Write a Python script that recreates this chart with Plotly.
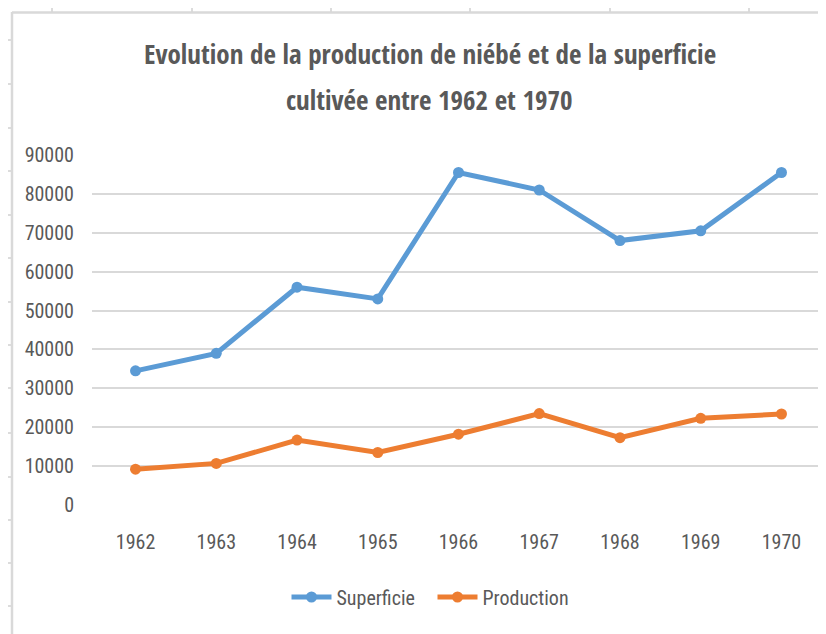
import plotly.graph_objects as go

years = ["1962", "1963", "1964", "1965", "1966", "1967", "1968", "1969", "1970"]
superficie = [34500, 39000, 56000, 53000, 85500, 81000, 68000, 70500, 85500]
production = [9200, 10700, 16700, 13500, 18200, 23500, 17300, 22300, 23400]
y_ticks = [0, 10000, 20000, 30000, 40000, 50000, 60000, 70000, 80000, 90000]
title_lines = ["Evolution de la production de niébé et de la superficie",
               "cultivée entre 1962 et 1970"]

W, H = 826, 634
OFF = 8  # page body margin
L, R, T, B = 84, 9, 147, 137
LABEL_FONT = "Roboto Condensed, DejaVu Sans Condensed, sans-serif"
TITLE_FONT = "Open Sans Condensed, Roboto Condensed, sans-serif"
TXT = "#595959"
GRID = "#D9D9D9"
SHEET = "#D0D0D0"


def px(x_ref):
    return (x_ref - OFF - L) / (W - L - R)


def py(y_ref):
    return 1 - (y_ref - OFF - T) / (H - T - B)


fig = go.Figure()
fig.add_trace(go.Scatter(
    x=years, y=superficie, name="Superficie", mode="lines+markers",
    line=dict(color="#5B9BD5", width=5),
    marker=dict(color="#5B9BD5", size=11, symbol="circle"),
))
fig.add_trace(go.Scatter(
    x=years, y=production, name="Production", mode="lines+markers",
    line=dict(color="#ED7D31", width=5),
    marker=dict(color="#ED7D31", size=11, symbol="circle"),
))

shapes = []
# spreadsheet cell lines outside the chart area
for xv in [52, 192, 331, 470, 610, 749]:
    shapes.append(dict(type="line", xref="paper", yref="paper",
                       x0=px(xv), x1=px(xv), y0=py(0), y1=py(12),
                       line=dict(color=SHEET, width=1.5), layer="below"))
for yv in [40, 84, 128, 171, 215, 258, 302, 345, 388, 433, 477, 520, 563, 606]:
    shapes.append(dict(type="line", xref="paper", yref="paper",
                       x0=px(0), x1=px(12), y0=py(yv), y1=py(yv),
                       line=dict(color=SHEET, width=1.5), layer="below"))
# chart area border
shapes.append(dict(type="line", xref="paper", yref="paper",
                   x0=px(12), x1=px(834), y0=py(12.5), y1=py(12.5),
                   line=dict(color=GRID, width=2.5), layer="above"))
shapes.append(dict(type="line", xref="paper", yref="paper",
                   x0=px(12), x1=px(12), y0=py(12), y1=py(642),
                   line=dict(color=GRID, width=2.5), layer="above"))

annotations = [
    dict(text="<b>" + title_lines[0] + "</b>", x=px(430), y=py(54), xref="paper", yref="paper",
         xanchor="center", yanchor="middle", showarrow=False,
         font=dict(family=TITLE_FONT, size=27, color=TXT)),
    dict(text="<b>" + title_lines[1] + "</b>", x=px(429), y=py(99), xref="paper", yref="paper",
         xanchor="center", yanchor="middle", showarrow=False,
         font=dict(family=TITLE_FONT, size=27, color=TXT)),
]

fig.update_layout(
    width=W, height=H,
    margin=dict(l=L, r=R, t=T, b=B, pad=0),
    paper_bgcolor="white", plot_bgcolor="white",
    font=dict(family=LABEL_FONT, color=TXT, size=20),
    xaxis=dict(
        type="category", tickvals=years, ticktext=years,
        showgrid=False, zeroline=False, showline=False, ticks="",
        ticklabelstandoff=23,
        tickfont=dict(family=LABEL_FONT, size=20, color=TXT),
    ),
    yaxis=dict(
        range=[0, 90000], tickvals=y_ticks, ticktext=[str(v) for v in y_ticks],
        showgrid=True, gridcolor=GRID, gridwidth=2,
        zeroline=False, showline=False, ticks="",
        ticklabelstandoff=17,
        tickfont=dict(family=LABEL_FONT, size=20, color=TXT),
    ),
    legend=dict(
        orientation="h", x=px(432.5), xanchor="center", y=py(597), yanchor="middle",
        font=dict(family=LABEL_FONT, size=20, color=TXT),
        itemwidth=40, tracegroupgap=0, bgcolor="rgba(0,0,0,0)",
        entrywidth=91, entrywidthmode="pixels",
    ),
    annotations=annotations,
    shapes=shapes,
    showlegend=True,
)
fig.write_html("out.html")
